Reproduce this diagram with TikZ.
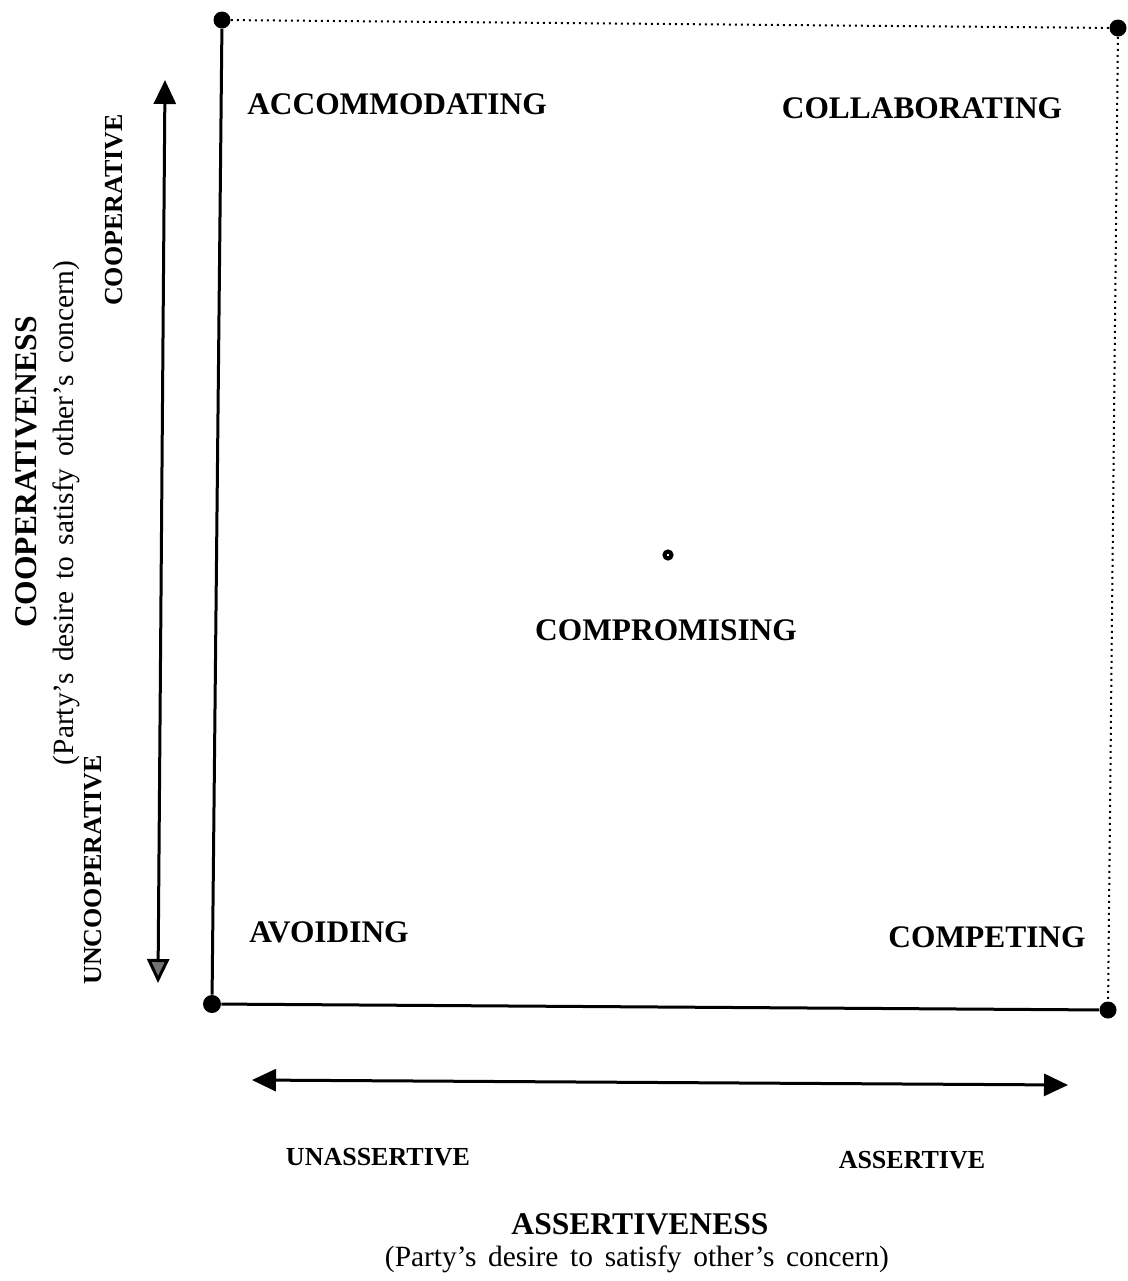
\documentclass[tikz,border=0pt]{standalone}
\usepackage{fontspec}
\setmainfont{Liberation Serif}
\usetikzlibrary{arrows.meta}

\newcommand{\widewords}{\spaceskip=0.4em\relax}

\tikzset{
  corner/.style={circle,fill=black,inner sep=0pt,minimum size=8.5pt},
  modelabel/.style={font=\fontsize{15.7}{18}\selectfont\bfseries},
  endlabel/.style={font=\fontsize{13}{15}\selectfont\bfseries},
  axistitle/.style={font=\fontsize{15.8}{18}\selectfont\bfseries},
  axisnote/.style={font=\fontsize{14.7}{17}\selectfont},
  scale arrow/.style={line width=1.5pt},
}

\begin{document}
\begin{tikzpicture}[x=0.5pt,y=-0.5pt]
\useasboundingbox (0,0) rectangle (1128,1281);

% corners of the grid
\node[corner] (tl) at (222,20) {};
\node[corner] (tr) at (1118,28) {};
\node[corner,minimum size=9pt] (bl) at (212,1004) {};
\node[corner] (br) at (1108,1010) {};
\node[circle,draw,line width=2pt,inner sep=0pt,minimum size=3.5pt] (mid) at (668,555) {};

\draw[line width=1.5pt] (tl) -- (bl);
\draw[line width=1.5pt] (bl) -- (br);
\draw[dotted,line width=1pt] (tl) -- (tr);
\draw[dotted,line width=1pt] (tr) -- (br);

% the five modes
\node[modelabel] (accom) at (397,104) {ACCOMMODATING};
\node[modelabel] (collab) at (922,108) {COLLABORATING};
\node[modelabel] (compro) at (666,630) {COMPROMISING};
\node[modelabel] (avoid) at (329,932) {AVOIDING};
\node[modelabel] (compet) at (987,937) {COMPETING};

% vertical scale
\coordinate (coopTop) at (165,80);
\coordinate (coopBot) at (158,983);
\draw[scale arrow,{Triangle[length=12pt,width=11pt,fill=black!55]}-{Triangle[length=12pt,width=11pt]}] (coopBot) -- (coopTop);

\node[endlabel,rotate=90] (coop) at (114,210) {COOPERATIVE};
\node[endlabel,rotate=90] (uncoop) at (93,870) {UNCOOPERATIVE};
\node[axistitle,rotate=90] (coopTitle) at (26,472) {COOPERATIVENESS};
\node[axisnote,rotate=90] (coopNote) at (66,513) {\widewords(Party’s desire to satisfy other’s concern)};

% horizontal scale
\coordinate (assLeft) at (252,1080);
\coordinate (assRight) at (1068,1085);
\draw[scale arrow,{Triangle[length=12pt,width=11pt]}-{Triangle[length=12pt,width=11pt]}] (assLeft) -- (assRight);

\node[endlabel] (unass) at (378,1157) {UNASSERTIVE};
\node[endlabel] (ass) at (912,1160) {ASSERTIVE};
\node[axistitle] (assTitle) at (640,1224) {ASSERTIVENESS};
\node[axisnote] (assNote) at (637,1259) {\widewords(Party’s desire to satisfy other’s concern)};

\end{tikzpicture}
\end{document}
